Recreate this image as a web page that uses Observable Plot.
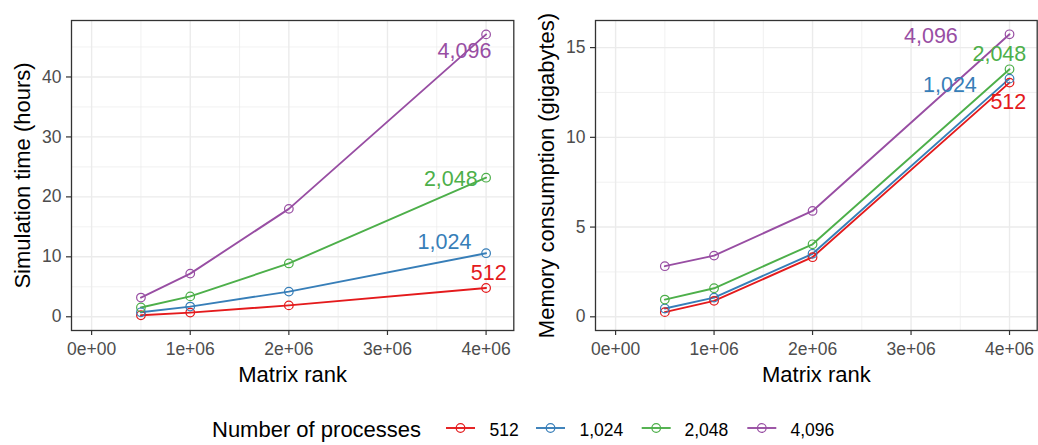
<!DOCTYPE html>
<html>
<head>
<meta charset="utf-8">
<script src="https://cdn.jsdelivr.net/npm/d3@7"></script>
<script src="https://cdn.jsdelivr.net/npm/@observablehq/plot@0.6"></script>
<style>
  body { margin: 0; background: #fff; font-family: "Liberation Sans", Arial, sans-serif; }
  #chart { position: relative; width: 1038px; height: 445px; overflow: hidden; background: #fff; }
  #left { position: absolute; left: 0; top: 0; }
  #right { position: absolute; left: 520px; top: 0; }
  #legend { position: absolute; left: 0; top: 400px; }
</style>
</head>
<body>
<div id="chart"><div id="left"></div><div id="right"></div><div id="legend"></div></div>
<script>
// ---- data ----
const processes = ["512", "1,024", "2,048", "4,096"];
const colors = ["#E41A1C", "#377EB8", "#4DAF4A", "#984EA3"];
const matrixRank = [500000, 1000000, 2000000, 4000000];

const time512  = [0.25, 0.7, 1.9, 4.8];
const time1024 = [0.75, 1.7, 4.2, 10.6];
const time2048 = [1.55, 3.4, 8.9, 23.2];
const time4096 = [3.2, 7.2, 18.0, 47.1];

const mem512  = [0.26, 0.89, 3.32, 13.05];
const mem1024 = [0.46, 1.07, 3.51, 13.27];
const mem2048 = [0.96, 1.59, 4.04, 13.79];
const mem4096 = [2.82, 3.41, 5.90, 15.74];

// direct label anchor points (data units)
const timeLabelX = [4.209e6, 3.851e6, 3.915e6, 4.054e6];
const timeLabelY = [7.31, 12.44, 23.0, 44.3];
const memLabelX = [4.170e6, 3.668e6, 4.170e6, 3.475e6];
const memLabelY = [11.94, 12.90, 14.65, 15.65];

const xTicks = [0, 1e6, 2e6, 3e6, 4e6];
const xTickLabels = ["0e+00", "1e+06", "2e+06", "3e+06", "4e+06"];
const xMinor = [0.5e6, 1.5e6, 2.5e6, 3.5e6];
const timeTicks = [0, 10, 20, 30, 40];
const timeMinor = [5, 15, 25, 35, 45];
const memTicks = [0, 5, 10, 15];
const memMinor = [2.5, 7.5, 12.5];

const xTitle = "Matrix rank";
const timeTitle = "Simulation time (hours)";
const memTitle = "Memory consumption (gigabytes)";
const legendTitle = "Number of processes";

// ---- build tables ----
function table(seriesList) {
  return processes.flatMap((p, i) => matrixRank.map((r, j) => ({p, x: r, y: seriesList[i][j]})));
}
function labelTable(lx, ly) {
  return processes.map((p, i) => ({p, x: lx[i], y: ly[i]}));
}
const timeData = table([time512, time1024, time2048, time4096]);
const memData = table([mem512, mem1024, mem2048, mem4096]);
const timeLabels = labelTable(timeLabelX, timeLabelY);
const memLabels = labelTable(memLabelX, memLabelY);

const FONT = "'Liberation Sans', Arial, Helvetica, sans-serif";

function panel({data, labels, yDomain, yTicks, yMinor, yTitle, width, marginLeft, marginRight}) {
  return Plot.plot({
    width, height: 400,
    marginTop: 20, marginBottom: 70, marginLeft, marginRight,
    style: {fontFamily: FONT, background: "white", overflow: "visible"},
    x: {domain: [-0.204e6, 4.281e6]},
    y: {domain: yDomain},
    color: {domain: processes, range: colors},
    marks: [
      Plot.gridX(xMinor, {stroke: "#EBEBEB", strokeOpacity: 1, strokeWidth: 0.7}),
      Plot.gridY(yMinor, {stroke: "#EBEBEB", strokeOpacity: 1, strokeWidth: 0.7}),
      Plot.gridX(xTicks, {stroke: "#EBEBEB", strokeOpacity: 1, strokeWidth: 1.4}),
      Plot.gridY(yTicks, {stroke: "#EBEBEB", strokeOpacity: 1, strokeWidth: 1.4}),
      Plot.line(data, {x: "x", y: "y", stroke: "p", z: "p", strokeWidth: 1.9}),
      Plot.dot(data, {x: "x", y: "y", stroke: "p", r: 4.3, strokeWidth: 1.2, fill: "none"}),
      Plot.text(labels, {x: "x", y: "y", text: "p", fill: "p", textAnchor: "end", fontSize: 21.5}),
      Plot.frame({stroke: "#333333", strokeWidth: 1.3}),
      Plot.axisX(xTicks, {tickSize: 5, tickPadding: 7.5, fontSize: 17.5, stroke: "#333333", strokeWidth: 1.2, fill: "#4D4D4D",
        tickFormat: d => xTickLabels[xTicks.indexOf(d)], label: null}),
      Plot.axisY(yTicks, {tickSize: 5, tickPadding: 5, fontSize: 17.5, stroke: "#333333", strokeWidth: 1.2, fill: "#4D4D4D",
        tickFormat: d => String(d), label: null}),
      Plot.text([xTitle], {frameAnchor: "bottom", textAnchor: "middle", lineAnchor: "middle", dy: 44.5,
        fontSize: 22, fill: "black", text: d => d}),
      Plot.text([yTitle], {frameAnchor: "left", textAnchor: "middle", lineAnchor: "middle", dx: -48.5, rotate: -90,
        fontSize: 22, fill: "black", text: d => d})
    ]
  });
}

document.getElementById("left").appendChild(panel({
  data: timeData, labels: timeLabels, yDomain: [-2.29, 49.42], yTicks: timeTicks, yMinor: timeMinor,
  yTitle: timeTitle, width: 520, marginLeft: 71, marginRight: 6.7
}));
document.getElementById("right").appendChild(panel({
  data: memData, labels: memLabels, yDomain: [-0.763, 16.51], yTicks: memTicks, yMinor: memMinor,
  yTitle: memTitle, width: 518, marginLeft: 75, marginRight: 1.3
}));

// ---- legend ----
const lg = d3.select("#legend").append("svg")
  .attr("width", 1038).attr("height", 45)
  .style("font-family", FONT);
lg.append("text").attr("x", 212).attr("y", 36.5).attr("font-size", 22).attr("fill", "black").text(legendTitle);
const keyX = [446, 536, 641.7, 747.3];
const labX = [489.5, 579.5, 684.5, 790.5];
processes.forEach((p, i) => {
  const g = lg.append("g");
  g.append("line").attr("x1", keyX[i]).attr("x2", keyX[i] + 29).attr("y1", 28).attr("y2", 28)
    .attr("stroke", colors[i]).attr("stroke-width", 1.9);
  g.append("circle").attr("cx", keyX[i] + 14.5).attr("cy", 28).attr("r", 4.3)
    .attr("fill", "none").attr("stroke", colors[i]).attr("stroke-width", 1.2);
  g.append("text").attr("x", labX[i]).attr("y", 35.5).attr("font-size", 17.5).attr("fill", "black").text(p);
});
</script>
</body>
</html>
